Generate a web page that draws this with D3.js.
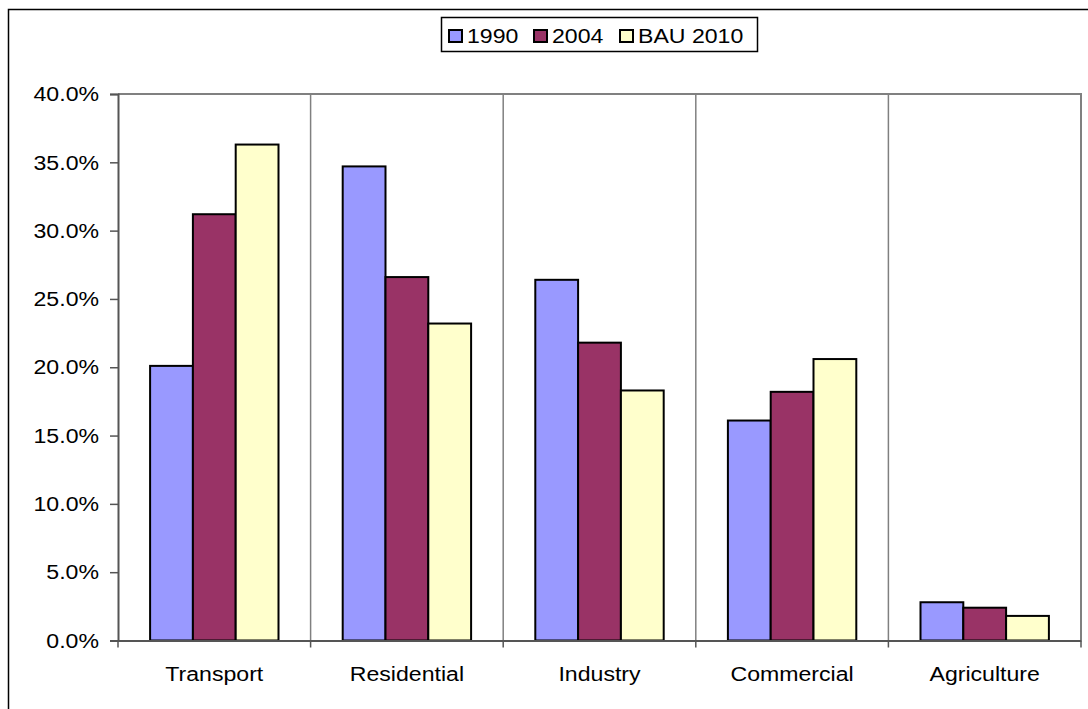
<!DOCTYPE html>
<html>
<head>
<meta charset="utf-8">
<script src="https://cdn.jsdelivr.net/npm/d3@7"></script>
<style>
  html, body { margin: 0; padding: 0; background: #fff; }
  svg { display: block; font-family: "Liberation Sans", Arial, sans-serif; }
</style>
</head>
<body>
<svg id="chart" width="1088" height="709"></svg>
<script>
// Share of energy use by sector
const categories = ["Transport", "Residential", "Industry", "Commercial", "Agriculture"];
const seriesNames = ["1990", "2004", "BAU 2010"];
const values1990 = [20.1, 34.7, 26.4, 16.1, 2.8];
const values2004 = [31.2, 26.6, 21.8, 18.2, 2.4];
const valuesBAU2010 = [36.3, 23.2, 18.3, 20.6, 1.8];
const seriesColors = ["#9999FF", "#993366", "#FFFFCC"];
const yTicks = [0, 5, 10, 15, 20, 25, 30, 35, 40];

const series = [values1990, values2004, valuesBAU2010];

const svg = d3.select("#chart");
const plotLeft = 118, plotRight = 1081, plotTop = 94, plotBottom = 640.5;
const fontSize = 21, stretch = 1.1;

// Outer chart frame
svg.append("rect")
  .attr("x", 8.5).attr("y", 9.5)
  .attr("width", 1100).attr("height", 720)
  .attr("fill", "none").attr("stroke", "#000").attr("stroke-width", 1.5);

const x = d3.scaleBand().domain(categories).range([plotLeft, plotRight]).padding(0);
// 150% gap width: three bars plus 1.5 bar widths of gap per category
const barW = x.bandwidth() / 4.5;
const xInner = d3.scaleBand().domain(seriesNames).range([0, barW * 3]);
const y = d3.scaleLinear().domain([0, 40]).range([plotBottom, plotTop]);

// Category dividers
const boundaries = categories.slice(1).map(c => x(c));
svg.append("g").selectAll("line").data(boundaries).join("line")
  .attr("x1", d => d).attr("x2", d => d)
  .attr("y1", plotTop).attr("y2", plotBottom)
  .attr("stroke", "#808080").attr("stroke-width", 1.5);

// Plot area border (top and right)
svg.append("path")
  .attr("d", `M${plotLeft},${plotTop}H${plotRight}V${plotBottom}`)
  .attr("fill", "none").attr("stroke", "#808080").attr("stroke-width", 2);

// Bars
const groups = svg.append("g").selectAll("g").data(categories).join("g")
  .attr("transform", c => `translate(${x(c) + barW * 0.75},0)`);
groups.selectAll("rect")
  .data((c, i) => seriesNames.map((s, j) => ({ s, j, v: series[j][i] })))
  .join("rect")
  .attr("x", d => xInner(d.s))
  .attr("y", d => y(d.v))
  .attr("width", xInner.bandwidth())
  .attr("height", d => plotBottom - y(d.v))
  .attr("fill", d => seriesColors[d.j])
  .attr("stroke", "#000").attr("stroke-width", 2);

// Y axis
const yAxis = svg.append("g")
  .attr("transform", `translate(${plotLeft},0)`)
  .call(d3.axisLeft(y).tickValues(yTicks).tickSize(8)
    .tickFormat(d => d.toFixed(1) + "%"));
yAxis.select(".domain").attr("stroke", "#555").attr("stroke-width", 2);
yAxis.selectAll(".tick line").attr("stroke", "#555").attr("stroke-width", 1.5);
yAxis.selectAll(".tick text")
  .attr("x", 0)
  .attr("transform", `translate(-19,0) scale(${stretch},1)`)
  .attr("font-size", fontSize).attr("fill", "#000")
  .attr("font-family", "Liberation Sans, Arial, sans-serif");

// X axis
const xAxis = svg.append("g")
  .attr("transform", `translate(0,${plotBottom})`)
  .call(d3.axisBottom(x).tickSize(0).tickPadding(26));
xAxis.select(".domain").attr("stroke", "#555").attr("stroke-width", 2);
xAxis.selectAll(".tick text")
  .attr("transform", `scale(${stretch},1)`)
  .attr("font-size", fontSize).attr("fill", "#000")
  .attr("font-family", "Liberation Sans, Arial, sans-serif");
// Tick marks at category boundaries
const xTickPos = [plotLeft].concat(boundaries, [plotRight]);
svg.append("g").selectAll("line").data(xTickPos).join("line")
  .attr("x1", d => d).attr("x2", d => d)
  .attr("y1", plotBottom).attr("y2", plotBottom + 7)
  .attr("stroke", "#555").attr("stroke-width", 1.5);

// Legend
const legend = svg.append("g");
legend.append("rect")
  .attr("x", 441.5).attr("y", 17.5).attr("width", 316).attr("height", 34)
  .attr("fill", "#fff").attr("stroke", "#000").attr("stroke-width", 1.5);
const legendX = [449, 534, 620];
const items = legend.selectAll("g.item").data(seriesNames).join("g")
  .attr("class", "item")
  .attr("transform", (d, i) => `translate(${legendX[i]},0)`);
items.append("rect")
  .attr("x", 0).attr("y", 30).attr("width", 13).attr("height", 12)
  .attr("fill", (d, i) => seriesColors[i])
  .attr("stroke", "#000").attr("stroke-width", 2);
items.append("text")
  .attr("transform", `translate(18,42.5) scale(${stretch},1)`)
  .attr("font-size", fontSize).attr("fill", "#000")
  .text(d => d);
</script>
</body>
</html>
